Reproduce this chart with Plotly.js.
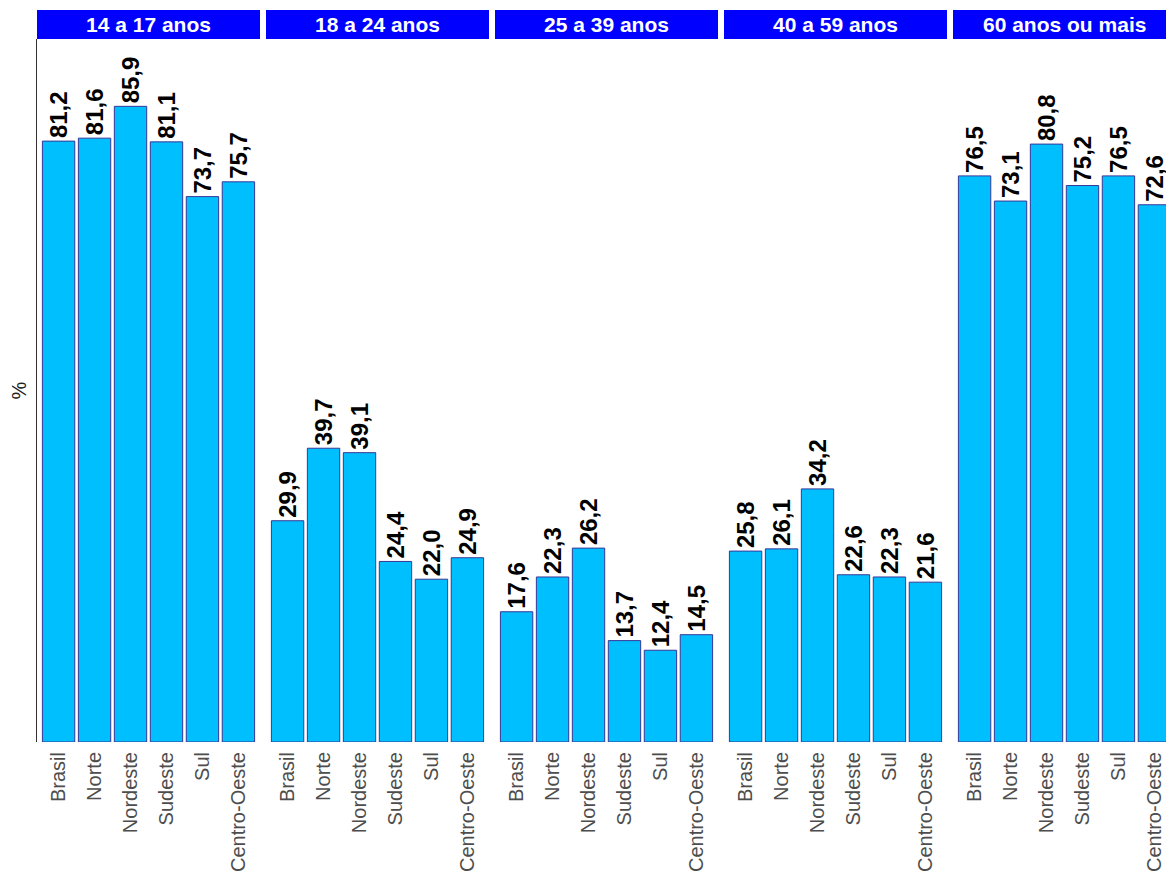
<!DOCTYPE html>
<html><head><meta charset="utf-8">
<script src="https://cdn.plot.ly/plotly-3.0.1.min.js"></script>
<style>html,body{margin:0;padding:0;overflow:hidden;background:#fff}</style>
</head><body><div id="chart" style="width:1166px;height:877px"></div>
<script>
const regions = ["Brasil","Norte","Nordeste","Sudeste","Sul","Centro-Oeste"];
const groups = ["14 a 17 anos","18 a 24 anos","25 a 39 anos","40 a 59 anos","60 anos ou mais"];
const v14a17 = [81.2,81.6,85.9,81.1,73.7,75.7];
const v18a24 = [29.9,39.7,39.1,24.4,22.0,24.9];
const v25a39 = [17.6,22.3,26.2,13.7,12.4,14.5];
const v40a59 = [25.8,26.1,34.2,22.6,22.3,21.6];
const v60mais = [76.5,73.1,80.8,75.2,76.5,72.6];
const seriesVals = [v14a17,v18a24,v25a39,v40a59,v60mais];

const W = 1166, H = 877;
const FONT = "Liberation Sans, Arial, sans-serif";
const lefts = [37,266,495,724,953];
const panelW = 223;
const plotTop = 39, plotBottom = 742;
const traces = [], shapes = [], annotations = [];
const layout = {
  width: W, height: H,
  margin: {l:0, r:0, t:plotTop, b:H-plotBottom, pad:0},
  paper_bgcolor:'#fff', plot_bgcolor:'#fff',
  showlegend:false, bargap:0.1,
  font:{family:FONT},
  yaxis:{range:[0,95], showgrid:false, zeroline:false, showticklabels:false, ticks:'',
         showline:true, linecolor:'#333', linewidth:1, anchor:'x', fixedrange:true},
};
seriesVals.forEach((vals,i)=>{
  const ax = i===0 ? 'x' : 'x'+(i+1);
  const key = i===0 ? 'xaxis' : 'xaxis'+(i+1);
  const x0 = lefts[i], x1 = Math.min(lefts[i]+panelW, W);
  const band = panelW/6.2;
  const rEnd = -0.6 + (x1-x0)/band;
  layout[key] = {domain:[x0/W, x1/W], range:[-0.6, rEnd], type:'category',
    categoryorder:'array', categoryarray:regions,
    showgrid:false, zeroline:false, showline:false, anchor:'y',
    ticks:'outside', ticklen:1, tickcolor:'rgba(0,0,0,0)', tickangle:-90,
    tickfont:{family:FONT, size:20, color:'#4d4d4d'}, fixedrange:true};
  traces.push({type:'bar', x:regions, y:vals, xaxis:ax, yaxis:'y',
    marker:{color:'#00BFFF', line:{color:'rgb(55,55,150)', width:1}},
    text: vals.map(v=>v.toFixed(1).replace('.',',')),
    textposition:'outside', textangle:-90, constraintext:'none', cliponaxis:false,
    textfont:{family:FONT, size:24, color:'#000', weight:'bold'},
    hoverinfo:'skip'});
  shapes.push({type:'rect', xref:'paper', yref:'paper', x0:x0/W, x1:x1/W,
    y0:1, y1:1+29/(plotBottom-plotTop), fillcolor:'#0000FF', line:{width:0}, layer:'above'});
  annotations.push({xref:'paper', yref:'paper', x:(lefts[i]+panelW/2)/W, y:1+14.5/(plotBottom-plotTop),
    text:'<b>'+groups[i]+'</b>', showarrow:false, xanchor:'center', yanchor:'middle',
    font:{family:FONT, size:21, color:'#fff'}});
});
annotations.push({xref:'paper', yref:'paper', x:18/W, y:0.5, text:'%', textangle:-90,
  showarrow:false, xanchor:'center', yanchor:'middle', font:{family:FONT, size:20, color:'#222'}});
layout.shapes = shapes;
layout.annotations = annotations;
Plotly.newPlot('chart', traces, layout, {displayModeBar:false, staticPlot:true});
</script></body></html>
